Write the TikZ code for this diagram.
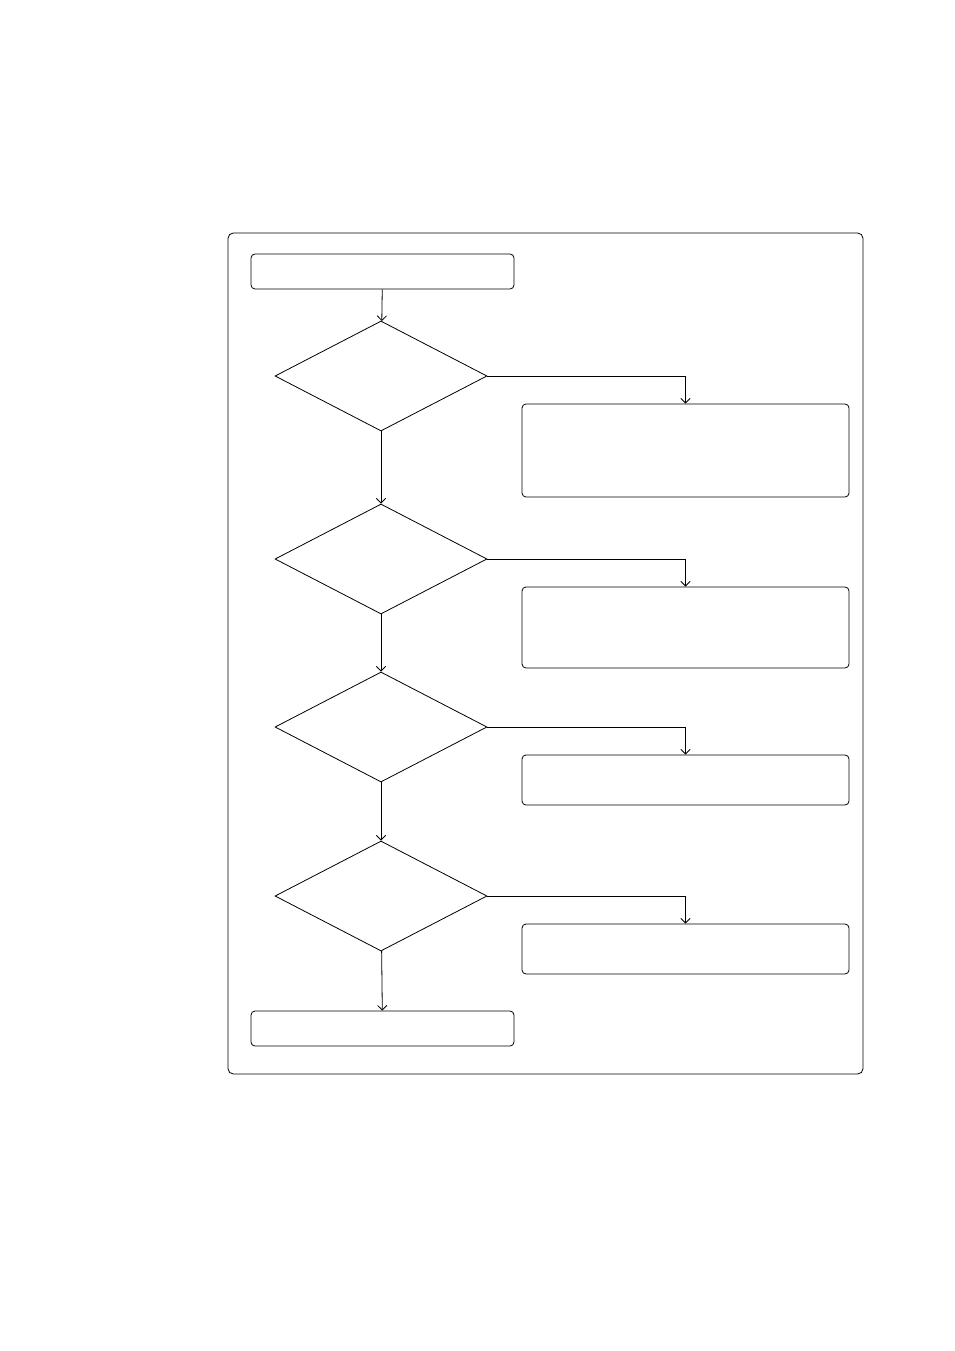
\documentclass[tikz,border=0pt]{standalone}
\usetikzlibrary{shapes.geometric, arrows.meta}
\begin{document}
\begin{tikzpicture}[x=0.75pt, y=-0.75pt, line width=0.6pt,
  >={Straight Barb[length=3.5pt, width=7pt]},
  box/.style={draw, rounded corners=3pt, inner sep=0pt, minimum width=245.25pt},
  endbox/.style={draw, rounded corners=3pt, inner sep=0pt, minimum width=197.25pt, minimum height=26.25pt},
  decision/.style={draw, diamond, inner sep=0pt, minimum width=159pt, minimum height=82.5pt}]
	\useasboundingbox (0,0) rectangle (954,1351);
	\draw [rounded corners=4pt] (228,233) rectangle (863,1074);

	\node [endbox] (start) at (382.5,271.5) {};
	\node [decision] (d1) at (381,376) {};
	\node [decision] (d2) at (381,559) {};
	\node [decision] (d3) at (381,727) {};
	\node [decision] (d4) at (381,896) {};
	\node [endbox] (stop) at (382.5,1028.5) {};

	\node [box, minimum height=69.75pt] (b1) at (685.5,450.5) {};
	\node [box, minimum height=60.75pt] (b2) at (685.5,627.5) {};
	\node [box, minimum height=37.5pt] (b3) at (685.5,780) {};
	\node [box, minimum height=37.5pt] (b4) at (685.5,949) {};

	\draw [->] (start) -- (d1);
	\draw [->] (d1) -- (d2);
	\draw [->] (d2) -- (d3);
	\draw [->] (d3) -- (d4);
	\draw [->] (d4) -- (stop);

	\draw [->] (d1.east) -| (b1.north);
	\draw [->] (d2.east) -| (b2.north);
	\draw [->] (d3.east) -| (b3.north);
	\draw [->] (d4.east) -| (b4.north);
\end{tikzpicture}
\end{document}
